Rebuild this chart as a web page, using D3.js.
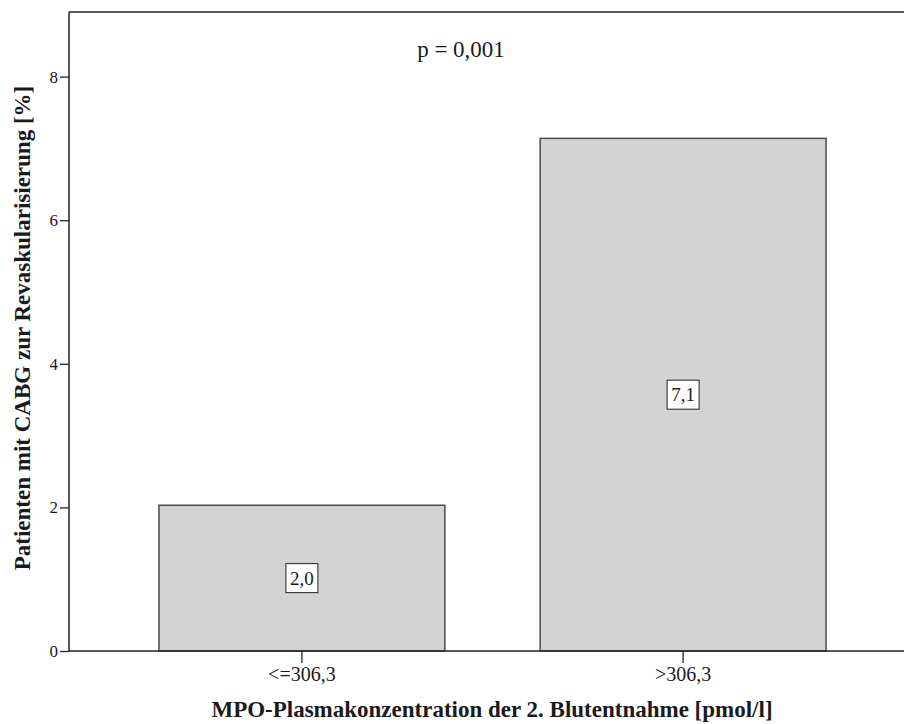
<!DOCTYPE html>
<html>
<head>
<meta charset="utf-8">
<script src="https://cdn.jsdelivr.net/npm/d3@7"></script>
<style>
  body { margin: 0; background: #fff; }
  svg text { font-family: "Liberation Serif", "Times New Roman", serif; fill: #1a1a1a; }
</style>
</head>
<body>
<div id="chart"></div>
<script>
// data
var categories = ["<=306,3", ">306,3"];
var percentValues = [2.03, 7.14];
var barLabels = ["2,0", "7,1"];
var yTicks = [0, 2, 4, 6, 8];
var pText = "p = 0,001";
var xTitle = "MPO-Plasmakonzentration der 2. Blutentnahme [pmol/l]";
var yTitle = "Patienten mit CABG zur Revaskularisierung [%]";

var width = 904, height = 724;
var plotLeft = 69, plotTop = 12, plotBottom = 651;

var svg = d3.select("#chart").append("svg")
    .attr("width", width)
    .attr("height", height);

var x = d3.scaleBand()
    .domain(categories)
    .range([plotLeft, 916])
    .paddingInner(0.25)
    .paddingOuter(0.236);

var y = d3.scaleLinear()
    .domain([0, 8.9])
    .range([plotBottom, plotTop]);

// bars
svg.append("g")
    .selectAll("rect")
    .data(percentValues)
    .enter()
    .append("rect")
    .attr("x", function(d, i) { return x(categories[i]); })
    .attr("y", function(d) { return y(d); })
    .attr("width", x.bandwidth())
    .attr("height", function(d) { return y(0) - y(d); })
    .style("fill", "#d3d3d3")
    .style("stroke", "#4a4a4a")
    .style("stroke-width", 1.5);

// value labels in boxes at half height
var lab = svg.append("g")
    .selectAll("g")
    .data(percentValues)
    .enter()
    .append("g")
    .attr("transform", function(d, i) {
        return "translate(" + (x(categories[i]) + x.bandwidth() / 2) + "," + y(d / 2) + ")";
    });
lab.append("rect")
    .attr("x", -16).attr("y", -14.5)
    .attr("width", 32).attr("height", 29)
    .style("fill", "#fff")
    .style("stroke", "#222")
    .style("stroke-width", 1);
lab.append("text")
    .attr("text-anchor", "middle")
    .attr("dy", "0.35em")
    .style("font-size", "19px")
    .text(function(d, i) { return barLabels[i]; });

// y axis
var yAxis = svg.append("g")
    .attr("transform", "translate(" + plotLeft + ",0)")
    .call(d3.axisLeft(y).tickValues(yTicks).tickSize(9).tickPadding(2).tickFormat(d3.format("d")));
yAxis.select(".domain").remove();
yAxis.selectAll("line").style("stroke", "#222").style("stroke-width", 1.3);
yAxis.selectAll("text").style("font-size", "17px").style("font-family", "Liberation Serif, serif");

// x axis
var xAxis = svg.append("g")
    .attr("transform", "translate(0," + plotBottom + ")")
    .call(d3.axisBottom(x).tickSize(12).tickPadding(4));
xAxis.select(".domain").remove();
xAxis.selectAll("line").style("stroke", "#222").style("stroke-width", 1.3);
xAxis.selectAll("text").style("font-size", "20px").style("font-family", "Liberation Serif, serif");

// frame lines
svg.append("line")
    .attr("x1", plotLeft).attr("x2", width)
    .attr("y1", plotTop).attr("y2", plotTop)
    .style("stroke", "#222").style("stroke-width", 1.5);
svg.append("line")
    .attr("x1", plotLeft).attr("x2", width)
    .attr("y1", plotBottom).attr("y2", plotBottom)
    .style("stroke", "#222").style("stroke-width", 1.5);
svg.append("line")
    .attr("x1", plotLeft).attr("x2", plotLeft)
    .attr("y1", plotTop).attr("y2", plotBottom)
    .style("stroke", "#222").style("stroke-width", 1.5);

// p value
svg.append("text")
    .attr("x", 461).attr("y", 57)
    .attr("text-anchor", "middle")
    .style("font-size", "23px")
    .text(pText);

// axis titles
svg.append("text")
    .attr("x", 492).attr("y", 717)
    .attr("text-anchor", "middle")
    .style("font-size", "23px")
    .style("font-weight", "bold")
    .text(xTitle);

svg.append("text")
    .attr("transform", "translate(30,328) rotate(-90)")
    .attr("text-anchor", "middle")
    .style("font-size", "23px")
    .style("font-weight", "bold")
    .text(yTitle);
</script>
</body>
</html>
